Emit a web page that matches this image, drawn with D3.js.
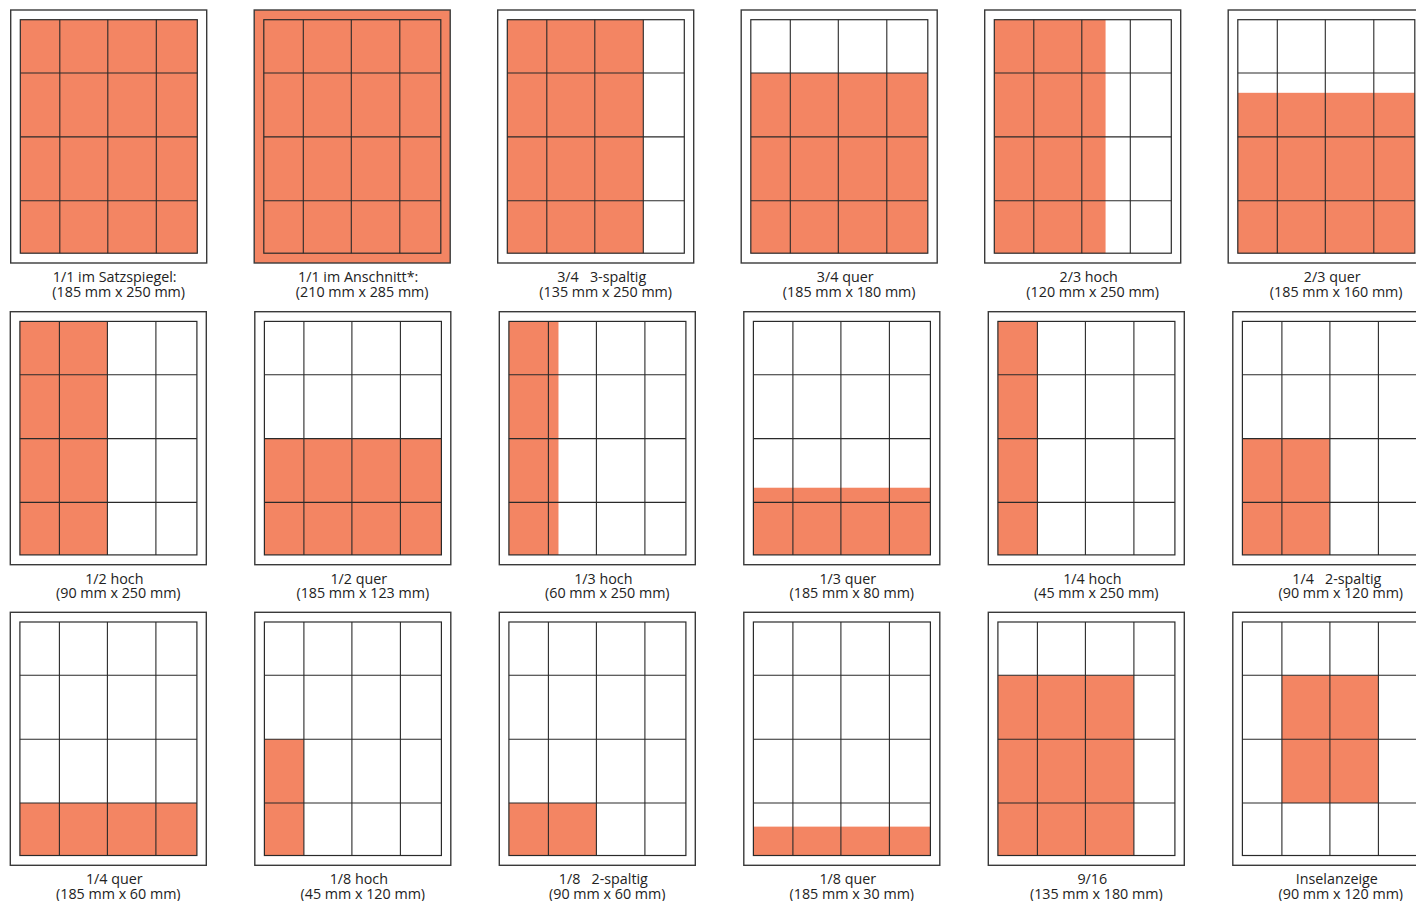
<!DOCTYPE html>
<html>
<head>
<meta charset="utf-8">
<script src="https://cdn.jsdelivr.net/npm/d3@7"></script>
<style>
  body { margin: 0; background: #ffffff; }
  svg { display: block; }
</style>
</head>
<body>
<div id="chart"></div>
<script>
// ad formats, read row by row from the sheet
const formatNames = [
  "1/1 im Satzspiegel:", "1/1 im Anschnitt*:", "3/4   3-spaltig", "3/4 quer", "2/3 hoch", "2/3 quer",
  "1/2 hoch", "1/2 quer", "1/3 hoch", "1/3 quer", "1/4 hoch", "1/4   2-spaltig",
  "1/4 quer", "1/8 hoch", "1/8   2-spaltig", "1/8 quer", "9/16", "Inselanzeige"
];
const formatSizes = [
  "(185 mm x 250 mm)", "(210 mm x 285 mm)", "(135 mm x 250 mm)", "(185 mm x 180 mm)", "(120 mm x 250 mm)", "(185 mm x 160 mm)",
  "(90 mm x 250 mm)", "(185 mm x 123 mm)", "(60 mm x 250 mm)", "(185 mm x 80 mm)", "(45 mm x 250 mm)", "(90 mm x 120 mm)",
  "(185 mm x 60 mm)", "(45 mm x 120 mm)", "(90 mm x 60 mm)", "(185 mm x 30 mm)", "(135 mm x 180 mm)", "(90 mm x 120 mm)"
];
// filled area in grid units (4 columns x 4 rows of the type area)
const fillCol0 = [0, 0, 0, 0, 0,    0,    0, 0, 0,    0,    0, 0, 0, 0, 0, 0,    0, 1];
const fillCol1 = [4, 4, 3, 4, 2.49, 4,    2, 4, 1.21, 4,    1, 2, 4, 1, 2, 4,    3, 3];
const fillRow0 = [0, 0, 0, 1, 0,    1.31, 0, 2, 0,    2.77, 0, 2, 3, 2, 3, 3.45, 1, 1];
const fillRow1 = [4, 4, 4, 4, 4,    4,    4, 4, 4,    4,    4, 4, 4, 4, 4, 4,    4, 3];
// formats printed into the bleed
const bleed = [false, true, false, false, false, false, false, false, false,
               false, false, false, false, false, false, false, false, false];

const width = 1416, height = 901;
const perRow = 6;
const rowTop = [10, 311.7, 612.3];
const rowLeft = [10.7, 10.3, 10.3];
const rowPitch = [243.5, 244.5, 244.5];
const page = { w: 196, h: 253 };
const grid = { x: 9.6, y: 9.7, w: 177, h: 233.5 };

const orange = "#F38563";
const ink = "#2a2a2a";

// grid columns and rows are not equally wide, so use piecewise scales
const gx = d3.scaleLinear().domain([0, 1, 2, 3, 4]).range([0, 39.5, 87.5, 136, grid.w]);
const gy = d3.scaleLinear().domain([0, 1, 2, 3, 4]).range([0, 53.3, 117.2, 181, grid.h]);

const svg = d3.select("#chart")
  .append("svg")
  .attr("width", width)
  .attr("height", height);

const panels = formatNames.map((name, i) => ({
  name: name,
  size: formatSizes[i],
  c0: fillCol0[i], c1: fillCol1[i],
  r0: fillRow0[i], r1: fillRow1[i],
  bleed: bleed[i],
  row: Math.floor(i / perRow),
  col: i % perRow
}));

const g = svg.selectAll(".panel")
  .data(panels)
  .enter()
  .append("g")
  .attr("class", "panel")
  .attr("transform", d => `translate(${rowLeft[d.row] + d.col * rowPitch[d.row]},${rowTop[d.row]})`);

// page
g.append("rect")
  .attr("width", page.w)
  .attr("height", page.h)
  .attr("fill", d => d.bleed ? orange : "#ffffff")
  .attr("stroke", "#3a3a3a")
  .attr("stroke-width", 1.4);

const area = g.append("g")
  .attr("transform", `translate(${grid.x},${grid.y})`);

// ad area
area.filter(d => !d.bleed)
  .append("rect")
  .attr("x", d => gx(d.c0))
  .attr("y", d => gy(d.r0))
  .attr("width", d => gx(d.c1) - gx(d.c0))
  .attr("height", d => gy(d.r1) - gy(d.r0))
  .attr("fill", orange);

// layout grid on top
area.selectAll(".vline")
  .data([1, 2, 3])
  .enter()
  .append("line")
  .attr("x1", d => gx(d)).attr("x2", d => gx(d))
  .attr("y1", 0).attr("y2", grid.h)
  .attr("stroke", ink)
  .attr("stroke-width", 1.1);

area.selectAll(".hline")
  .data([1, 2, 3])
  .enter()
  .append("line")
  .attr("x1", 0).attr("x2", grid.w)
  .attr("y1", d => gy(d)).attr("y2", d => gy(d))
  .attr("stroke", ink)
  .attr("stroke-width", 1.1);

area.append("rect")
  .attr("width", grid.w)
  .attr("height", grid.h)
  .attr("fill", "none")
  .attr("stroke", ink)
  .attr("stroke-width", 1.2);

// captions
g.append("text")
  .attr("x", page.w / 2 + 6)
  .attr("y", page.h + 19)
  .attr("text-anchor", "middle")
  .style("font-family", "'Open Sans', sans-serif")
  .style("font-size", "14.3px")
  .style("white-space", "pre")
  .style("fill", "#222")
  .text(d => d.name);

g.append("text")
  .attr("x", page.w / 2 + 10)
  .attr("y", page.h + 33.5)
  .attr("text-anchor", "middle")
  .style("font-family", "'Open Sans', sans-serif")
  .style("font-size", "14.3px")
  .style("white-space", "pre")
  .style("fill", "#222")
  .text(d => d.size);
</script>
</body>
</html>
